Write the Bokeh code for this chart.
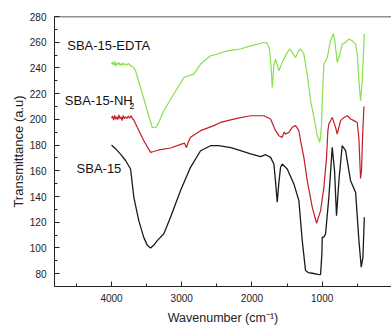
from bokeh.plotting import figure
from bokeh.models import Range1d, FixedTicker, Label, Span
from bokeh.embed import file_html
from bokeh.resources import INLINE

# ---- data ----
wn_sba = [4000, 3940, 3872, 3800, 3729, 3682, 3611, 3540, 3490, 3444, 3400, 3349, 3255, 3160,
          3017, 2875, 2732, 2590, 2476, 2300, 2163, 2020, 1877, 1806, 1735, 1688, 1665, 1640,
          1618, 1593, 1569, 1498, 1403, 1332, 1284, 1237, 1200, 1141, 1060, 1023, 1005, 999,
          975, 952, 905, 857, 824, 796, 762, 715, 667, 596, 524, 477, 444, 420, 400]
t_sba = [180, 177, 173, 168, 161.4, 139.4, 121, 108, 102, 100, 102, 105.7, 111, 123.8,
         144.6, 162.7, 175.6, 179.5, 179.5, 178, 175.6, 173.1, 171, 172.5, 170.4, 165.3, 152, 135.5,
         150, 162.7, 165.3, 161.4, 149.8, 136.8, 105.7, 82.4, 80.8, 80.3, 79.5, 79.3, 95, 108.3,
         108.5, 110.9, 139.4, 178.2, 160, 125.1, 152.3, 179.5, 175.6, 152.3, 143.2, 105.7, 85, 92.7, 123.8]

wn_nh2 = [4000, 3985, 3970, 3955, 3940, 3925, 3910, 3895, 3880, 3865, 3850, 3835, 3820, 3800,
          3780, 3760, 3740, 3720, 3700, 3682, 3634, 3540, 3444, 3400, 3326, 3160, 2993, 2960,
          2932, 2910, 2875, 2732, 2543, 2447, 2200, 2020, 1830, 1735, 1664, 1617, 1569, 1545,
          1522, 1474, 1427, 1379, 1332, 1308, 1261, 1213, 1141, 1080, 1023, 976, 938, 919, 905,
          857, 809, 786, 738, 690, 643, 596, 548, 501, 477, 454, 440, 426, 406, 400]
t_nh2 = [201, 202.5, 199.5, 203, 200, 202, 199.8, 203.5, 200.5, 202, 199, 203, 200.5, 202,
         200.8, 202.5, 201, 202.8, 200.5, 199.5, 193.8, 183.4, 174.3, 175, 176.2, 177.7, 180.9, 181.5,
         178, 182, 186, 191.2, 195.1, 197.6, 201, 202.8, 202.8, 200.3, 191.2, 187.3, 186, 190,
         188.6, 189.9, 193.8, 195.1, 191.2, 183.4, 170.4, 152.3, 131.6, 119.2, 129, 147.1, 170.4, 191.2, 196.4,
         201.5, 193.8, 188.6, 199, 201.5, 202.8, 200.3, 199, 197.6, 185, 154, 160, 185, 209.3, 210]

wn_edta = [4000, 3985, 3970, 3955, 3940, 3925, 3910, 3895, 3880, 3865, 3850, 3835, 3820, 3800,
           3780, 3760, 3729, 3690, 3658, 3587, 3491, 3420, 3380, 3349, 3255, 3113, 2970, 2899,
           2828, 2732, 2590, 2494, 2352, 2257, 2162, 2020, 1830, 1783, 1750, 1726, 1711, 1688,
           1664, 1617, 1569, 1498, 1461, 1413, 1379, 1340, 1308, 1261, 1213, 1165, 1118, 1071,
           1034, 1010, 1000, 976, 928, 881, 843, 820, 786, 748, 715, 667, 620, 572, 525, 501,
           477, 454, 430, 400]
t_edta = [243, 244.5, 242, 245, 241.5, 243.5, 242.5, 244.5, 242, 243.5, 241.8, 244, 242.5, 243,
          242.2, 243.5, 241.7, 240.5, 237.8, 224.8, 206.7, 193.8, 193.5, 195.1, 206.7, 219.7, 232.6, 233.9,
          235.2, 243, 249.5, 250.8, 253.3, 254.1, 254.7, 257.2, 259.8, 259.3, 254.7, 239.2, 224.8, 241.7,
          246.9, 237.8, 244.3, 252.1, 254.7, 250.8, 248.1, 253, 254.7, 250.8, 235.2, 214.5, 201.5, 187.3,
          182, 195, 212, 243, 248.1, 261.1, 266.8, 261, 244.3, 250.8, 258.5, 259.8, 262.4, 261.1, 258.5, 250.8,
          230, 214.5, 230, 266.5]

series_names = ["SBA-15", "SBA-15-NH", "SBA-15-EDTA"]
x_ticks = [4000, 3000, 2000, 1000]
x_minor = [4500, 3500, 2500, 1500, 500]
y_ticks = [80, 100, 120, 140, 160, 180, 200, 220, 240, 260, 280]
y_minor = [70, 90, 110, 130, 150, 170, 190, 210, 230, 250, 270]

FONT = "Liberation Sans"

p = figure(frame_width=337, frame_height=270, x_range=Range1d(4812, 13), y_range=Range1d(70, 280),
           output_backend="svg", toolbar_location=None,
           min_border_left=54, min_border_right=0, min_border_top=16, min_border_bottom=39)
p.xgrid.visible = False
p.ygrid.visible = False
p.outline_line_color = None
p.background_fill_color = "white"
p.border_fill_color = "white"

p.line(wn_sba, t_sba, line_color="#1a1a1a", line_width=1.3)
p.line(wn_nh2, t_nh2, line_color="#c41e24", line_width=1.2)
p.line(wn_edta, t_edta, line_color="#88e04a", line_width=1.2)

for ax in (p.xaxis[0], p.yaxis[0]):
    ax.major_tick_in = 5
    ax.major_tick_out = 0
    ax.minor_tick_in = 3
    ax.minor_tick_out = 0
    ax.axis_line_color = "#222222"
    ax.major_tick_line_color = "#222222"
    ax.minor_tick_line_color = "#222222"
    ax.major_label_text_font = FONT
    ax.major_label_text_font_size = "10px"
    ax.major_label_text_color = "#222222"
    ax.axis_label_text_font = FONT
    ax.axis_label_text_font_style = "normal"
    ax.axis_label_text_color = "#222222"

p.xaxis.ticker = FixedTicker(ticks=x_ticks, minor_ticks=x_minor)
p.yaxis.ticker = FixedTicker(ticks=y_ticks, minor_ticks=y_minor)
p.xaxis.axis_label = "Wavenumber (cm\u207b\u00b9)"
p.yaxis.axis_label = "Transmittance (a.u)"
p.xaxis.axis_label_text_font_size = "12.5px"
p.yaxis.axis_label_text_font_size = "13px"
p.xaxis.major_label_standoff = 7
p.xaxis.axis_label_standoff = 6
p.yaxis.major_label_standoff = 8
p.yaxis.axis_label_standoff = 1

p.add_layout(Span(location=280, dimension="width", line_color="#222222", line_width=1.5))

label_style = dict(text_font=FONT, text_font_size="13px", text_color="#111111",
                   text_baseline="middle", text_align="left")
p.add_layout(Label(x=4631, y=257.5, text=series_names[2], **label_style))
p.add_layout(Label(x=4665, y=214.3, text=series_names[1], **label_style))
p.add_layout(Label(x=3744, y=210.6, text="2", text_font=FONT, text_font_size="9px",
                   text_color="#111111", text_baseline="middle", text_align="left"))
p.add_layout(Label(x=4498, y=161.4, text=series_names[0], **label_style))

open("out.html", "w").write(file_html(p, INLINE))
